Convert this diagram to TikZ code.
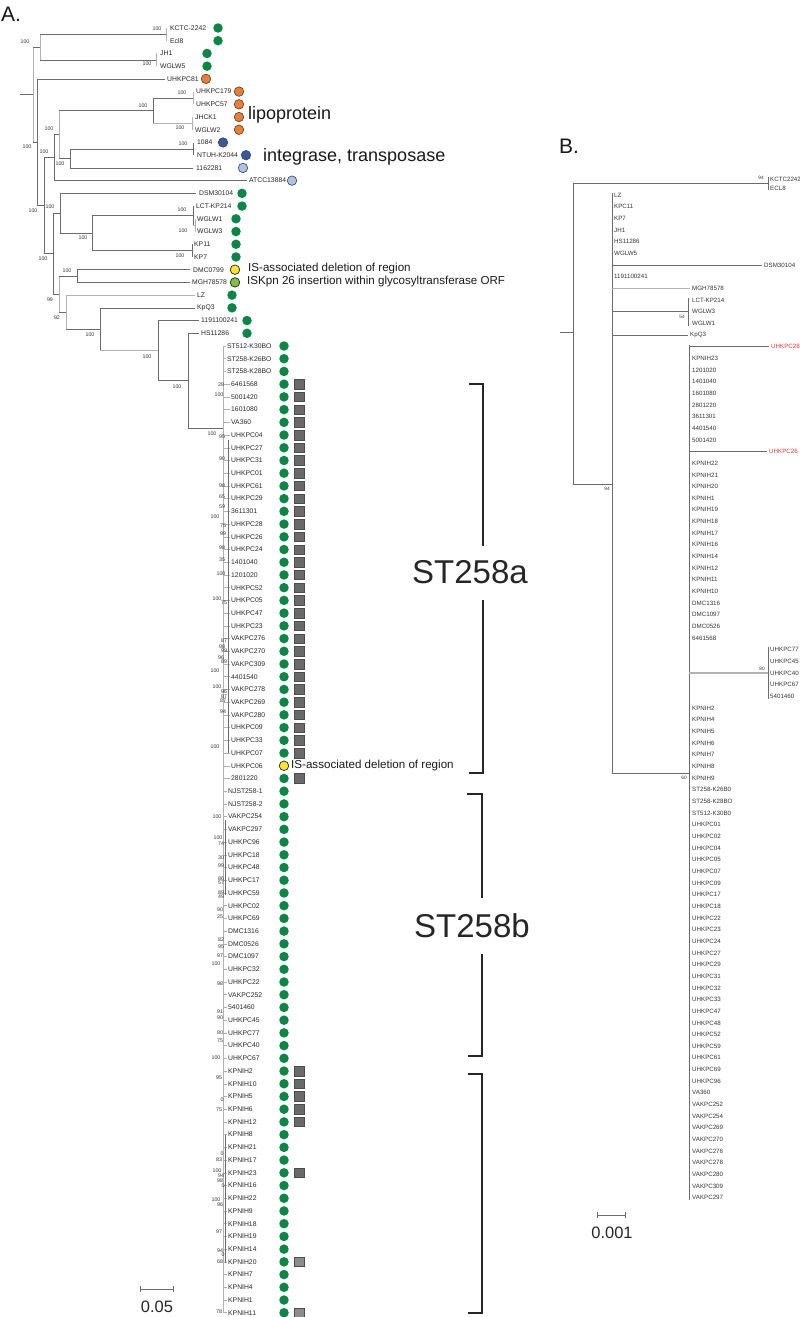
\documentclass[tikz,border=0pt]{standalone}
\usepackage{fontspec}
\setmainfont{Liberation Sans}
\definecolor{kgreen}{RGB}{10,135,68}
\definecolor{korange}{RGB}{240,125,45}
\definecolor{kblue}{RGB}{55,90,165}
\definecolor{klblue}{RGB}{170,196,232}
\definecolor{kyellow}{RGB}{248,232,40}
\definecolor{klgreen}{RGB}{125,194,66}
\definecolor{kred}{RGB}{230,50,50}
\definecolor{kbox}{RGB}{105,105,105}
\definecolor{kboxl}{RGB}{140,140,140}

\begin{document}
\begin{tikzpicture}[x=1pt,y=-1pt,
  br/.style={draw=black!58, line width=0.55pt},
  brl/.style={draw=black!30, line width=1pt},
  brk/.style={draw=black!85, line width=1.2pt},
  tip/.style={anchor=west, inner sep=0pt, text=black!85, font=\fontsize{6.8}{8}\selectfont},
  tipb/.style={anchor=west, inner sep=0pt, font=\fontsize{6.2}{7}\selectfont},
  bsv/.style={inner sep=0pt, text=black!80, font=\fontsize{5.3}{6}\selectfont},
  bsb/.style={inner sep=0pt, text=black!80, font=\fontsize{4.8}{5}\selectfont},
  leafdot/.style={circle, inner sep=0pt, minimum size=9.5pt, fill=#1},
  gdot/.style={leafdot=kgreen},
  odot/.style={leafdot=korange, draw=black!75, line width=0.6pt},
  bdot/.style={leafdot=kblue, draw=black!75, line width=0.6pt},
  lbdot/.style={leafdot=klblue, draw=black!75, line width=0.6pt},
  ydot/.style={leafdot=kyellow, draw=black!85, line width=0.7pt},
  lgdot/.style={leafdot=klgreen, draw=black!85, line width=0.7pt},
  sqbox/.style={rectangle, inner sep=0pt, minimum size=9.5pt, fill=#1, draw=black!70, line width=0.5pt},
  note/.style={anchor=west, inner sep=0pt, text=black!90, font=\fontsize{11.6}{13}\selectfont},
  gene/.style={anchor=west, inner sep=0pt, text=black!90, font=\fontsize{18}{20}\selectfont},
  clade/.style={inner sep=0pt, text=black!85, font=\fontsize{33}{36}\selectfont},
  panel/.style={inner sep=0pt, text=black!90, font=\fontsize{21}{24}\selectfont},
  scalelab/.style={inner sep=0pt, text=black!85, font=\fontsize{16.5}{18}\selectfont},
]
\useasboundingbox (0,0) rectangle (800,1317);

% ---------- panel A ----------
\node[panel] (pA) at (11,14) {A.};

% upper leaves: label/label x/dot x/dot style
\foreach \lab/\lx/\cx/\st [count=\i] in {
  KCTC-2242/170/218/gdot, Ecl8/170/218/gdot, JH1/160/207/gdot, WGLW5/160/207/gdot,
  UHKPC81/167/206/odot, UHKPC179/196/239/odot, UHKPC57/196/239/odot,
  JHCK1/195/239/odot, WGLW2/195/239/odot, 1084/197/223/bdot,
  NTUH-K2044/197/246/bdot, 1162281/196/243/lbdot, ATCC13884/249/292/lbdot,
  DSM30104/199/242/gdot, LCT-KP214/196/242/gdot, WGLW1/197/236/gdot,
  WGLW3/197/236/gdot, KP11/194/236/gdot, KP7/194/236/gdot,
  DMC0799/193/235/ydot, MGH78578/192/235/lgdot, LZ/197/232/gdot,
  KpQ3/197/232/gdot, 1191100241/201/247/gdot, HS11286/201/247/gdot}{
  \pgfmathsetmacro\yy{28+12.72*(\i-1)}
  \node[tip] (a\i) at (\lx,\yy) {\lab};
  \node[\st] (c\i) at (\cx,\yy) {};
}

% ST258 leaves
\foreach \lab [count=\i from 26] in {
  ST512-K30BO, ST258-K26BO, ST258-K28BO, 6461568, 5001420, 1601080, VA360,
  UHKPC04, UHKPC27, UHKPC31, UHKPC01, UHKPC61, UHKPC29, 3611301, UHKPC28,
  UHKPC26, UHKPC24, 1401040, 1201020, UHKPC52, UHKPC05, UHKPC47, UHKPC23,
  VAKPC276, VAKPC270, VAKPC309, 4401540, VAKPC278, VAKPC269, VAKPC280,
  UHKPC09, UHKPC33, UHKPC07, UHKPC06, 2801220, NJST258-1, NJST258-2,
  VAKPC254, VAKPC297, UHKPC96, UHKPC18, UHKPC48, UHKPC17, UHKPC59, UHKPC02,
  UHKPC69, DMC1316, DMC0526, DMC1097, UHKPC32, UHKPC22, VAKPC252, 5401460,
  UHKPC45, UHKPC77, UHKPC40, UHKPC67, KPNIH2, KPNIH10, KPNIH5, KPNIH6,
  KPNIH12, KPNIH8, KPNIH21, KPNIH17, KPNIH23, KPNIH16, KPNIH22, KPNIH9,
  KPNIH18, KPNIH19, KPNIH14, KPNIH20, KPNIH7, KPNIH4, KPNIH1, KPNIH11}{
  \pgfmathsetmacro\yy{28+12.72*(\i-1)}
  \pgfmathsetmacro\lx{\i<29 ? 227 : (\i<61 ? 231 : 228)}
  \draw[brl, line width=0.5pt] (223,\yy) -- (\lx-1.5,\yy);
  \node[tip] (a\i) at (\lx,\yy) {\lab};
  \ifnum\i=59
    \node[ydot] (c\i) at (284,\yy) {};
  \else
    \node[gdot] (c\i) at (284,\yy) {};
  \fi
}
\foreach \i in {29,...,58,60,83,84,85,86,87,91}
  \node[sqbox=kbox] (s\i) at (299,{28+12.72*(\i-1)}) {};
\foreach \i in {98,102}
  \node[sqbox=kboxl] (s\i) at (299,{28+12.72*(\i-1)}) {};

% branches
\draw[br] (20,94.6) -- (33,94.6);
\draw[brl] (33,47.1) -- (33,142);
\draw[br] (33,47.1) -- (40,47.1);
\draw[brl] (40,34.4) -- (40,59.8);
\draw[br] (40,34.4) -- (166,34.4);
\draw[brl] (166,28) -- (166,40.7);
\draw[br] (40,59.8) -- (156,59.8);
\draw[brl] (156,53.4) -- (156,66.2);
\draw[br] (33,142) -- (37,142);
\draw[br] (37,78.9) -- (37,205.6);
\draw[br] (37,78.9) -- (165,78.9);
\draw[br] (37,205.6) -- (44,205.6);
\draw[br] (44,157.6) -- (44,253.6);
\draw[br] (44,157.6) -- (54,157.6);
\draw[br] (54,134.5) -- (54,180.6);
\draw[br] (54,180.6) -- (247,180.6);
\draw[br] (54,134.5) -- (59,134.5);
\draw[brl] (59,110.7) -- (59,158.4);
\draw[br] (59,110.7) -- (153,110.7);
\draw[br] (153,98) -- (153,123.4);
\draw[br] (153,98) -- (193,98);
\draw[brl] (193,91.6) -- (193,104.3);
\draw[brl] (153,123.4) -- (192,123.4);
\draw[brl] (192,117) -- (192,129.8);
\draw[br] (59,158.4) -- (70,158.4);
\draw[br] (70,148.9) -- (70,167.9);
\draw[br] (70,148.9) -- (193,148.9);
\draw[br] (193,142.5) -- (193,155.2);
\draw[br] (70,167.9) -- (193,167.9);
\draw[br] (44,253.6) -- (53,253.6);
\draw[br] (53,213.2) -- (53,294);
\draw[br] (53,213.2) -- (60,213.2);
\draw[br] (60,193.4) -- (60,233.1);
\draw[br] (60,193.4) -- (196,193.4);
\draw[br] (60,233.1) -- (92,233.1);
\draw[br] (92,215.6) -- (92,250.6);
\draw[br] (92,215.6) -- (193,215.6);
\draw[br] (193,206) -- (193,225.2);
\draw[brl] (193,225.2) -- (195,225.2) (195,218.8) -- (195,231.5);
\draw[br] (92,250.6) -- (192,250.6);
\draw[br] (192,244.3) -- (192,257);
\draw[br] (53,294) -- (59,294);
\draw[brl] (59,276) -- (59,312);
\draw[br] (59,276) -- (77,276);
\draw[br] (77,269.7) -- (77,282.4);
\draw[br] (77,269.7) -- (190,269.7);
\draw[br] (77,282.4) -- (190,282.4);
\draw[br] (59,312) -- (66,312);
\draw[brl] (66,295) -- (66,329.2);
\draw[brl] (66,295) -- (195,295);
\draw[br] (66,329.2) -- (100,329.2);
\draw[br] (100,307.9) -- (100,350.6);
\draw[br] (100,307.9) -- (195,307.9);
\draw[brl] (100,350.6) -- (158,350.6);
\draw[br] (158,320.6) -- (158,380.7);
\draw[br] (158,320.6) -- (199,320.6);
\draw[br] (158,380.7) -- (188,380.7);
\draw[br] (188,333.3) -- (188,428);
\draw[br] (188,333.3) -- (199,333.3);
\draw[br] (188,428) -- (223,428);
\draw[brl] (223,345.9) -- (223,1313);
\draw[br, line width=0.8pt] (228,440) -- (228,753);
\draw[br, line width=0.8pt] (225,820) -- (225,895);
\draw[br, line width=0.8pt] (225,1135) -- (225,1263);

% support values
\foreach \bx/\by/\bt in {
  157/29/100, 147/64/100, 25/42/100, 182/93/100, 143/106/100, 180/128/100,
  49/129/100, 183/144/100, 27/147/100, 44/152/100, 60/164/100, 33/211/100,
  50/207/100, 182/210/100, 183/231/100, 83/238/100, 180/256/100, 43/259/100,
  67/271/100, 50/300/99, 57/318/92, 90/335/100, 147/357/100, 177/387/100,
  212/434/100, 222/437/95,
  221/385/28, 219/395/100, 222/459/90, 222/486/98, 222/497/65,
  222/507/59, 215/517/100, 223/526/75, 223/534/99, 222/548/98, 222/560/35,
  221/574/100, 217/599/100, 224/603/75,
  224/641/87, 222/647/98, 224/651/99, 221/658/96, 224/662/89, 215/671/100,
  217/687/100, 224/692/96, 224/697/87, 223/701/87, 223/712/94, 215/747/100,
  217/817/100, 218/838/100, 221/844/74, 221/858/30, 221/866/99, 221/879/86,
  221/883/57, 221/893/89, 221/897/49, 220/910/90, 220/917/25, 221/940/82,
  221/947/95, 220/956/97, 216/964/100, 220/984/98, 220/1012/91,
  220/1018/90, 220/1033/80, 220/1041/75, 216/1058/100,
  219/1078/95, 222/1100/0, 219/1110/75, 222/1154/0, 219/1160/83, 217/1171/100,
  221/1176/94, 220/1181/98, 223/1186/0, 216/1200/100, 220/1205/96,
  219/1232/97, 220/1251/94, 223/1255/0, 220/1262/68,
  219/1312/78}
  \node[bsv] at (\bx,\by) {\bt};

% annotations
\node[gene] (lipo) at (248,115) {lipoprotein};
\node[gene] (integ) at (263,157) {integrase, transposase};
\node[note] (isdel) at (248,268) {IS-associated deletion of region};
\node[note] (iskpn) at (247,281) {ISKpn 26 insertion within glycosyltransferase ORF};
\node[note] (isdel2) at (291,765.5) {IS-associated deletion of region};

% clade brackets
\node[clade] (st258a) at (470,572) {ST258a};
\draw[brk] (469,384) -- (483,384) -- (483,546);
\draw[brk] (483,600) -- (483,773) -- (469,773);
\node[clade] (st258b) at (472,926) {ST258b};
\draw[brk] (467,794) -- (482,794) -- (482,898);
\draw[brk] (482,954) -- (482,1056) -- (468,1056);
\draw[brk] (468,1074) -- (482,1074) -- (482,1313) -- (468,1313);

% scale
\draw[br] (140,1289) -- (173,1289) (140,1286) -- (140,1292) (173,1286) -- (173,1292);
\node[scalelab] (scA) at (157,1307) {0.05};

% ---------- panel B ----------
\node[panel] (pB) at (569,146) {B.};

\node[tipb, text=black!80] (bk1) at (770,179) {KCTC2242};
\node[tipb, text=black!80] (bk2) at (770,188) {ECL8};
\foreach \lab/\bx [count=\i] in {
  LZ/614, KPC11/614, KP7/614, JH1/614, HS11286/614, WGLW5/614, DSM30104/764,
  1191100241/614, MGH78578/692, LCT-KP214/692, WGLW3/692, WGLW1/692, KpQ3/690,
  UHKPC28/771, KPNIH23/692, 1201020/692, 1401040/692, 1601080/692, 2801220/692,
  3611301/692, 4401540/692, 5001420/692, UHKPC26/769, KPNIH22/692, KPNIH21/692,
  KPNIH20/692, KPNIH1/692, KPNIH19/692, KPNIH18/692, KPNIH17/692, KPNIH16/692,
  KPNIH14/692, KPNIH12/692, KPNIH11/692, KPNIH10/692, DMC1316/692, DMC1097/692,
  DMC0526/692, 6461568/692, UHKPC77/770, UHKPC45/770, UHKPC40/770, UHKPC67/770,
  5401460/770, KPNIH2/692, KPNIH4/692, KPNIH5/692, KPNIH6/692, KPNIH7/692,
  KPNIH8/692, KPNIH9/692, ST258-K26B0/692, ST258-K28BO/692, ST512-K30B0/692,
  UHKPC01/692, UHKPC02/692, UHKPC04/692, UHKPC05/692, UHKPC07/692, UHKPC09/692,
  UHKPC17/692, UHKPC18/692, UHKPC22/692, UHKPC23/692, UHKPC24/692, UHKPC27/692,
  UHKPC29/692, UHKPC31/692, UHKPC32/692, UHKPC33/692, UHKPC47/692, UHKPC48/692,
  UHKPC52/692, UHKPC59/692, UHKPC61/692, UHKPC69/692, UHKPC96/692, VA360/692,
  VAKPC252/692, VAKPC254/692, VAKPC269/692, VAKPC270/692, VAKPC276/692,
  VAKPC278/692, VAKPC280/692, VAKPC309/692, VAKPC297/692}{
  \def\tc{black!80}
  \ifnum\i=14 \def\tc{kred}\fi
  \ifnum\i=23 \def\tc{kred}\fi
  \node[tipb, text=\tc] (b\i) at (\bx,{195+11.66*(\i-1)}) {\lab};
}

\draw[br] (560,332.5) -- (573,332.5);
\draw[br] (573,183) -- (573,484);
\draw[br] (573,183) -- (768,183);
\draw[br] (768,177) -- (768,190);
\draw[br] (573,484) -- (612,484);
\draw[br] (612,193) -- (612,773);
\draw[br] (612,265) -- (762,265);
\draw[brl, line width=1.6pt] (612,288.3) -- (690,288.3);
\draw[br] (612,311.6) -- (688,311.6);
\draw[br] (688,298) -- (688,326);
\draw[br] (612,334.9) -- (688,334.9);
\draw[br] (612,773) -- (689,773);
\draw[br] (689,345) -- (689,1200);
\draw[br] (689,346.6) -- (769,346.6);
\draw[br] (689,451.5) -- (767,451.5);
\draw[brl, line width=1.6pt] (689,673) -- (768,673);
\draw[br] (768,647) -- (768,699);
\foreach \bx/\by/\bt in {761/178/94, 682/317/54, 607/489/94, 762/669/80, 684/778/60}
  \node[bsb] at (\bx,\by) {\bt};

\draw[br] (597,1215) -- (625,1215) (597,1212) -- (597,1218) (625,1212) -- (625,1218);
\node[scalelab] (scB) at (612,1233) {0.001};
\end{tikzpicture}
\end{document}
